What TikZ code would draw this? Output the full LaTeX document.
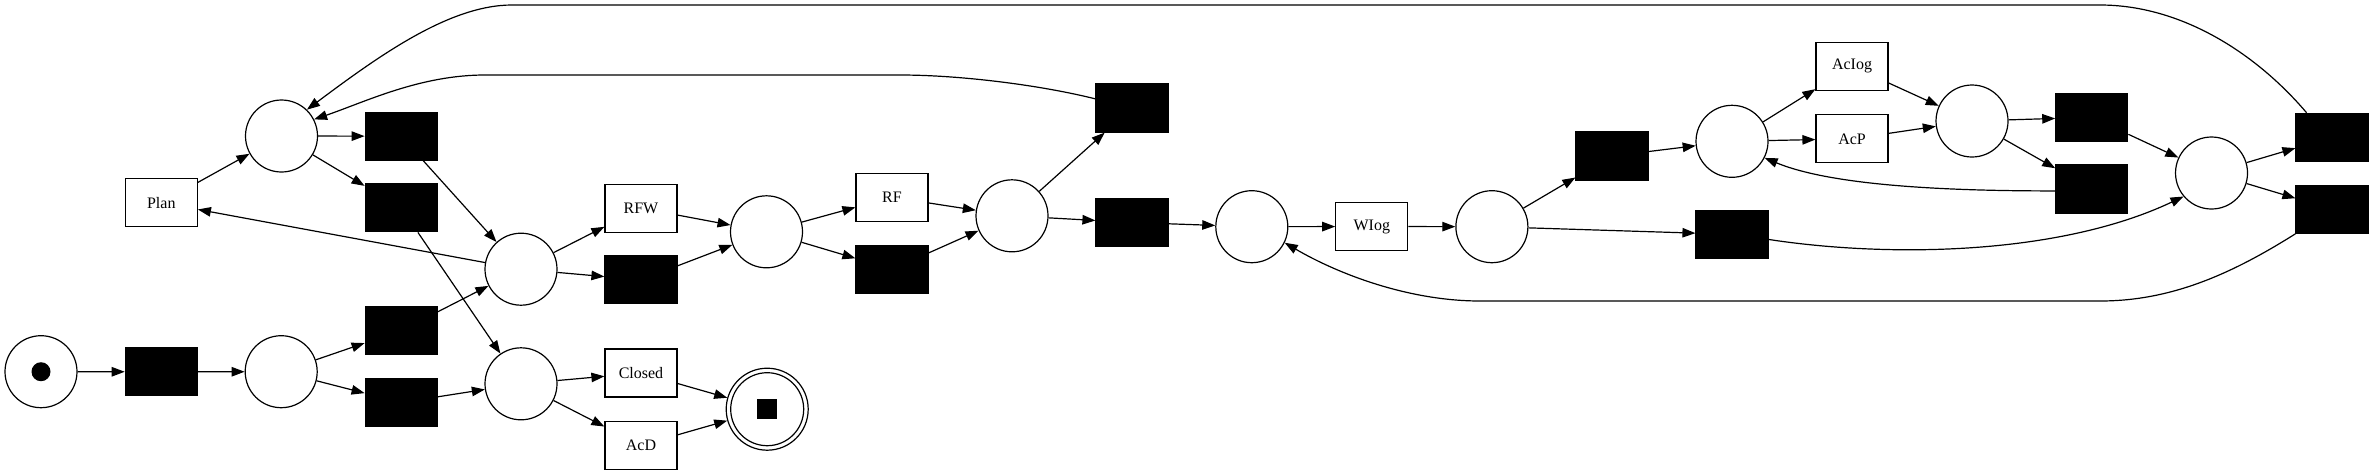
\documentclass[tikz,border=0pt]{standalone}
\usepackage{fontspec}
\setmainfont{Liberation Serif}
\usetikzlibrary{arrows.meta}
\begin{document}
\begin{tikzpicture}[x=1pt,y=-1pt,
  every node/.style={inner sep=0pt, line width=1.2pt},
  place/.style={circle, draw, minimum size=72pt},
  trans/.style={rectangle, draw, minimum width=72pt, minimum height=48pt, font=\fontsize{16}{19}\selectfont},
  silent/.style={rectangle, draw, fill=black, minimum width=72pt, minimum height=48pt},
  arc/.style={line width=1.2pt, -{Triangle[length=13pt,width=9.5pt]}},
]
\useasboundingbox[fill=white] (0,0) rectangle (2373,475);

% places
\node[place] (start) at (41,371.7) {};
\fill (start.center) circle (9.5pt);
\node[place] (p2) at (281.2,371.7) {};
\node[place] (pA) at (281.5,136) {};
\node[place] (p3) at (521,269.2) {};
\node[place] (p4) at (521,383.8) {};
\node[place, minimum size=82pt] (end) at (767.2,409.2) {};
\draw[line width=1.2pt] (end.center) circle (36.5pt);
\fill ([shift={(-10,-10)}]end.center) rectangle ([shift={(10,10)}]end.center);
\node[place] (pB) at (766.5,231.8) {};
\node[place] (pC) at (1012,215.8) {};
\node[place] (pF) at (1251.8,226.7) {};
\node[place] (pG) at (1491.9,226.7) {};
\node[place] (pH) at (1732,141.3) {};
\node[place] (pI) at (1972,121) {};
\node[place] (pJ) at (2211.5,173) {};

% transitions
\node[silent] (t1) at (161.3,371.8) {};
\node[silent] (t3) at (401.2,330.5) {};
\node[silent] (t4) at (401.2,402.5) {};
\node[silent] (tA1) at (401.2,136.2) {};
\node[silent] (tA2) at (401.2,207.8) {};
\node[trans] (plan) at (161.3,202.7) {Plan};
\node[trans] (rfw) at (641,208.2) {RFW};
\node[silent] (tB) at (641,279.8) {};
\node[trans] (closed) at (641,373) {Closed};
\node[trans] (acd) at (641,445.3) {AcD};
\node[trans] (rf) at (892,197.3) {RF};
\node[silent] (tC) at (892,269.2) {};
\node[silent] (tD) at (1132,108) {};
\node[silent] (tE) at (1132,222.5) {};
\node[trans] (wlog) at (1371.8,226.5) {WIog};
\node[silent] (tG1) at (1612,156) {};
\node[silent] (tG2) at (1732,234.3) {};
\node[trans] (aclog) at (1852,66.3) {AcIog};
\node[trans] (acp) at (1852,138.8) {AcP};
\node[silent] (tI1) at (2091.8,117.3) {};
\node[silent] (tI2) at (2091.8,189) {};
\node[silent] (tJ1) at (2332,137.3) {};
\node[silent] (tJ2) at (2332,209.2) {};

% straight arcs
\draw[arc] (start) -- (t1);
\draw[arc] (t1) -- (p2);
\draw[arc] (p2) -- (t3);
\draw[arc] (p2) -- (t4);
\draw[arc] (t3) -- (p3);
\draw[arc] (t4) -- (p4);
\draw[arc] (plan) -- (pA);
\draw[arc] (pA) -- (tA1);
\draw[arc] (pA) -- (tA2);
\draw[arc] (tA1) -- (p3);
\draw[arc] (tA2) -- (p4);
\draw[arc] (p3) -- (plan);
\draw[arc] (p3) -- (rfw);
\draw[arc] (p3) -- (tB);
\draw[arc] (p4) -- (closed);
\draw[arc] (p4) -- (acd);
\draw[arc] (closed) -- (end);
\draw[arc] (acd) -- (end);
\draw[arc] (rfw) -- (pB);
\draw[arc] (tB) -- (pB);
\draw[arc] (pB) -- (rf);
\draw[arc] (pB) -- (tC);
\draw[arc] (rf) -- (pC);
\draw[arc] (tC) -- (pC);
\draw[arc] (pC) -- (tD);
\draw[arc] (pC) -- (tE);
\draw[arc] (tE) -- (pF);
\draw[arc] (pF) -- (wlog);
\draw[arc] (wlog) -- (pG);
\draw[arc] (pG) -- (tG1);
\draw[arc] (pG) -- (tG2);
\draw[arc] (tG1) -- (pH);
\draw[arc] (pH) -- (aclog);
\draw[arc] (pH) -- (acp);
\draw[arc] (aclog) -- (pI);
\draw[arc] (acp) -- (pI);
\draw[arc] (pI) -- (tI1);
\draw[arc] (pI) -- (tI2);
\draw[arc] (tI1) -- (pJ);
\draw[arc] (pJ) -- (tJ1);
\draw[arc] (pJ) -- (tJ2);

% curved arcs
\draw[arc] (tJ1.136) .. controls (2255,52) and (2180,5) .. (2100,5)
  -- (512,5) .. controls (450,5) and (380,55) .. (pA.46);
\draw[arc] (tD.166) .. controls (1040,85) and (960,75) .. (900,75)
  -- (485,75) .. controls (420,75) and (365,102) .. (pA.27);
\draw[arc] (tI2.183) .. controls (1940,191) and (1830,185) .. (pH.333);
\draw[arc] (tG2.-8) .. controls (1890,258) and (2060,255) .. (pJ.220);
\draw[arc] (tJ2.south west) .. controls (2230,275) and (2170,301) .. (2100,301)
  -- (1480,301) .. controls (1410,301) and (1340,275) .. (pF.334);
\end{tikzpicture}
\end{document}
